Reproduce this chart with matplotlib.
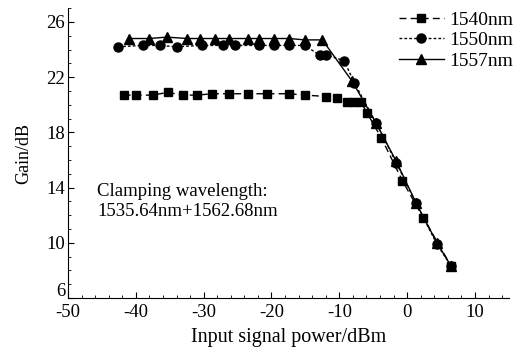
import matplotlib
matplotlib.use("Agg")
import matplotlib.pyplot as plt
import matplotlib.transforms as mtransforms
from matplotlib.ticker import MultipleLocator

plt.rcParams["font.family"] = ["Liberation Serif", "DejaVu Serif"]
plt.rcParams["font.size"] = 13.5
plt.rcParams["axes.unicode_minus"] = False

# 1540 nm signal (squares)
x_1540 = [-41.8, -39.9, -37.5, -35.3, -33.1, -31.0, -28.7, -26.3, -23.5, -20.6,
          -17.4, -15.0, -11.9, -10.3, -8.8, -7.8, -6.8, -5.9, -3.8, -0.7, 2.4, 6.5]
g_1540 = [20.7, 20.7, 20.7, 20.9, 20.7, 20.7, 20.8, 20.8, 20.8, 20.8,
          20.8, 20.7, 20.6, 20.5, 20.2, 20.2, 20.2, 19.4, 17.6, 14.5, 11.8, 8.3]

# 1550 nm signal (circles)
x_1550 = [-42.6, -39.0, -36.5, -34.0, -30.3, -27.2, -25.4, -21.8, -19.6, -17.4,
          -15.1, -12.9, -11.9, -9.3, -7.8, -4.6, -1.6, 1.3, 4.4, 6.5]
g_1550 = [24.2, 24.3, 24.3, 24.2, 24.3, 24.3, 24.3, 24.3, 24.3, 24.3,
          24.3, 23.6, 23.6, 23.2, 21.6, 18.7, 15.8, 12.9, 9.9, 8.3]

# 1557 nm signal (triangles)
x_1557 = [-41.0, -38.1, -35.4, -32.4, -30.6, -28.4, -26.2, -23.5, -21.8, -19.6,
          -17.4, -15.1, -12.5, -8.1, -4.6, -1.6, 1.3, 4.4, 6.5]
g_1557 = [24.8, 24.8, 24.9, 24.8, 24.8, 24.8, 24.8, 24.8, 24.8, 24.8,
          24.8, 24.7, 24.7, 21.7, 18.7, 15.9, 12.9, 10.0, 8.3]

fig = plt.figure(figsize=(5.23, 3.54), dpi=100)
ax = fig.add_axes([0.130, 0.158, 0.843, 0.819])

ax.plot(x_1540, g_1540, color="black", linestyle=(0, (5, 3)), linewidth=1,
        marker="s", markersize=6, label="1540nm")
ax.plot(x_1550, g_1550, color="black", linestyle=(0, (2, 1.5)), linewidth=1,
        marker="o", markersize=6.5, label="1550nm")
ax.plot(x_1557, g_1557, color="black", linestyle="-", linewidth=1,
        marker="^", markersize=7, label="1557nm")

ax.set_xlim(-50, 15)
ax.set_ylim(6, 27)
ax.set_xticks([-50, -40, -30, -20, -10, 0, 10])
ax.set_yticks([6, 10, 14, 18, 22, 26])
ax.xaxis.set_minor_locator(MultipleLocator(2))
ax.yaxis.set_minor_locator(MultipleLocator(1))
ax.tick_params(which="both", direction="in", top=False, right=False)
ax.tick_params(which="major", length=4)
ax.tick_params(axis="x", which="major", pad=4)
ax.tick_params(axis="y", which="major", pad=2)
ax.tick_params(which="minor", length=2)
ax.spines["top"].set_visible(False)
ax.spines["right"].set_visible(False)

# the "6" at the corner sits a little higher than the rest, clear of "-50"
lab6 = ax.get_yticklabels()[0]
lab6.set_transform(lab6.get_transform() +
                   mtransforms.ScaledTranslation(0, 6 / 72, fig.dpi_scale_trans))

ax.set_xlabel("Input signal power/dBm", fontsize=14.5, labelpad=5)
ax.set_ylabel("Gain/dB", fontsize=13, labelpad=10)

ax.text(-45.7, 13.0, "Clamping wavelength:\n1535.64nm+1562.68nm",
        va="center", ha="left", linespacing=1.25)

ax.legend(loc="upper right", bbox_to_anchor=(1.05, 1.05), frameon=False,
          fontsize=14, handlelength=2.3, handletextpad=0.3, labelspacing=0.15)

fig.savefig("out.png", dpi=100)
